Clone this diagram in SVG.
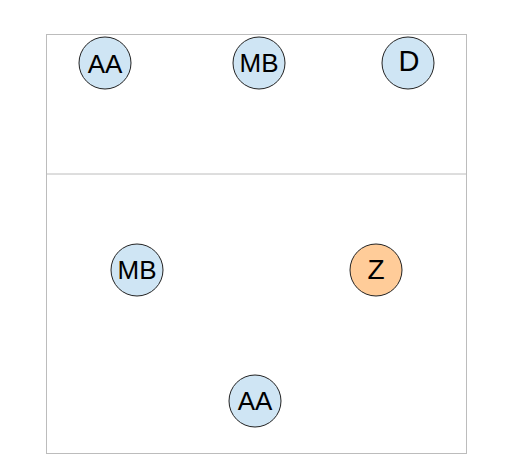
<svg xmlns="http://www.w3.org/2000/svg" width="511" height="470" viewBox="0 0 511 470">
<style>
.frame{fill:none;stroke:#bcbcbc;stroke-width:1}
.n{fill:#cfe5f4;stroke:#222;stroke-width:1}
.z{fill:#ffcc99;stroke:#222;stroke-width:1}
text{font-family:"Liberation Sans",Arial,sans-serif;font-size:26px;fill:#000;text-anchor:middle;dominant-baseline:central}
</style>
<rect class="frame" x="46.5" y="34.5" width="420" height="419"/>
<g id="connectors"><line class="frame" x1="46.5" y1="174" x2="466.5" y2="174"/></g>
<g id="n1"><circle class="n" cx="105" cy="63" r="26"/><text x="105" y="64">AA</text></g>
<g id="n2"><circle class="n" cx="259" cy="63" r="26"/><text x="259" y="63">MB</text></g>
<g id="n3"><circle class="n" cx="408" cy="63" r="26"/><text x="409" y="61" style="font-size:29px">D</text></g>
<g id="n4"><circle class="n" cx="137" cy="270" r="26"/><text x="137" y="270">MB</text></g>
<g id="n5"><circle class="z" cx="376" cy="270" r="26"/><text x="376" y="269" style="font-size:28px">Z</text></g>
<g id="n6"><circle class="n" cx="255" cy="401" r="26"/><text x="255" y="401">AA</text></g>
</svg>
